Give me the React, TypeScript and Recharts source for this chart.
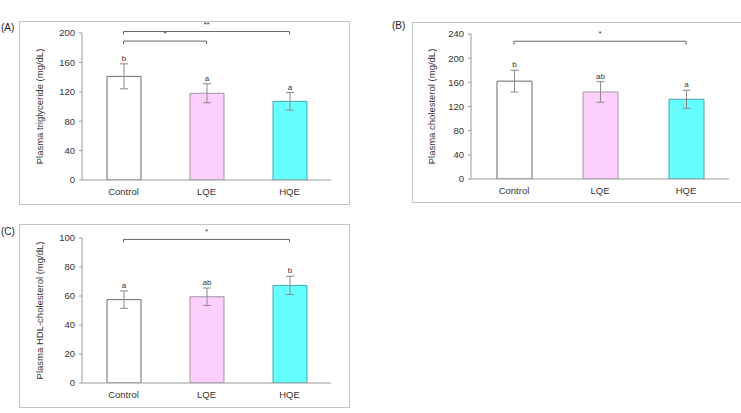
import {
  BarChart,
  Bar,
  XAxis,
  YAxis,
  Cell,
  ErrorBar,
  LabelList,
  ReferenceLine,
} from "recharts"

// -----------------------------
// Data
// -----------------------------
const groups = ["Control", "LQE", "HQE"]

const tgMean = [141, 118, 107]
const tgErr = [17, 13, 12]
const tgLetters = ["b", "a", "a"]
const tgTicks = [0, 40, 80, 120, 160, 200]

const cholMean = [162, 144, 132]
const cholErr = [18, 17, 15]
const cholLetters = ["b", "ab", "a"]
const cholTicks = [0, 40, 80, 120, 160, 200, 240]

const hdlMean = [57.5, 59.5, 67.3]
const hdlErr = [6, 6, 6.3]
const hdlLetters = ["a", "ab", "b"]
const hdlTicks = [0, 20, 40, 60, 80, 100]

const barFills = ["#ffffff", "#fccffc", "#66ffff"]
const barStrokes = ["#6b6b6b", "#a494a4", "#46a6a6"]

const FONT = '"Liberation Sans", Arial, sans-serif'
const axisGray = "#9a9a9a"

interface Bracket {
  from: string
  to: string
  y: number
  leg: number
  mark: string
}

interface PanelProps {
  tag: string
  title: string
  means: number[]
  errs: number[]
  letters: string[]
  ticks: number[]
  brackets: Bracket[]
  frame: { left: number; top: number; width: number; height: number }
  tagPos: { left: number; top: number }
  margin: { top: number; right: number; bottom: number; left: number }
  yWidth: number
  xHeight: number
  barSize: number
  labelDx: number
}

function Panel(p: PanelProps) {
  const data = groups.map((g, i) => ({
    name: g,
    mean: p.means[i],
    err: p.errs[i],
    letter: p.letters[i],
  }))
  const max = p.ticks[p.ticks.length - 1]

  // letter sits just above the error-bar cap
  const renderLetter = (props: any) => {
    const { x, y, width, height, value, index } = props
    const mean = p.means[index]
    const pxPerUnit = height / mean
    const top = y - p.errs[index] * pxPerUnit
    return (
      <text
        x={x + width / 2}
        y={top - 3}
        textAnchor="middle"
        fontSize={8}
        fontFamily={FONT}
        fill="#333"
      >
        {value}
      </text>
    )
  }

  return (
    <>
      <div
        style={{
          position: "absolute",
          left: p.tagPos.left,
          top: p.tagPos.top,
          fontFamily: FONT,
          fontSize: 10,
          color: "#222",
        }}
      >
        {p.tag}
      </div>
      <div
        style={{
          position: "absolute",
          left: p.frame.left,
          top: p.frame.top,
          width: p.frame.width,
          height: p.frame.height,
          border: "1.5px solid #c4c4c4",
          boxSizing: "border-box",
        }}
      />
      <div style={{ position: "absolute", left: p.frame.left, top: p.frame.top }}>
        <BarChart
          width={Math.min(p.frame.width, 741 - p.frame.left)}
          height={p.frame.height}
          data={data}
          margin={p.margin}
          barCategoryGap={0}
        >
          <XAxis
            dataKey="name"
            height={p.xHeight}
            tickLine={false}
            tickSize={0}
            tickMargin={8}
            stroke={axisGray}
            tick={{ fill: "#333", fontSize: 9.5, fontFamily: FONT }}
          />
          <YAxis
            domain={[0, max]}
            ticks={p.ticks}
            width={p.yWidth}
            tickSize={3}
            tickMargin={4}
            stroke={axisGray}
            interval={0}
            allowDataOverflow
            tick={{ fill: "#333", fontSize: 9.5, fontFamily: FONT }}
            label={{
              value: p.title,
              angle: -90,
              position: "insideLeft",
              dx: p.labelDx,
              style: {
                textAnchor: "middle",
                fontSize: 9.5,
                fontFamily: FONT,
                fill: "#333",
              },
            }}
          />

          {/* significance brackets */}
          {p.brackets.map((b, i) => [
            <ReferenceLine
              key={`h${i}`}
              segment={[
                { x: b.from, y: b.y },
                { x: b.to, y: b.y },
              ]}
              stroke="#666"
              strokeWidth={1}
              ifOverflow="visible"
              label={{
                value: b.mark,
                position: "top",
                fontSize: 8,
                fontFamily: FONT,
                fill: "#333",
              }}
            />,
            <ReferenceLine
              key={`l${i}`}
              segment={[
                { x: b.from, y: b.y },
                { x: b.from, y: b.leg },
              ]}
              stroke="#666"
              strokeWidth={1}
              ifOverflow="visible"
            />,
            <ReferenceLine
              key={`r${i}`}
              segment={[
                { x: b.to, y: b.y },
                { x: b.to, y: b.leg },
              ]}
              stroke="#666"
              strokeWidth={1}
              ifOverflow="visible"
            />,
          ])}

          <Bar dataKey="mean" barSize={p.barSize} isAnimationActive={false}>
            {data.map((d, i) => (
              <Cell key={d.name} fill={barFills[i]} stroke={barStrokes[i]} strokeWidth={1} />
            ))}
            <ErrorBar
              dataKey="err"
              width={4}
              stroke="#8a8a8a"
              strokeWidth={1}
              direction="y"
              isAnimationActive={false}
            />
            <LabelList dataKey="letter" content={renderLetter} />
          </Bar>
        </BarChart>
      </div>
    </>
  )
}

export default function App() {
  return (
    <div
      style={{
        position: "fixed",
        left: 0,
        top: 0,
        width: 741,
        height: 413,
        overflow: "hidden",
        background: "#fff",
      }}
    >
      <Panel
        tag="(A)"
        title="Plasma triglyceride (mg/dL)"
        means={tgMean}
        errs={tgErr}
        letters={tgLetters}
        ticks={tgTicks}
        brackets={[
          { from: "Control", to: "HQE", y: 202, leg: 198, mark: "**" },
          { from: "Control", to: "LQE", y: 189, leg: 185, mark: "*" },
        ]}
        frame={{ left: 19, top: 21, width: 331, height: 184 }}
        tagPos={{ left: 1, top: 22 }}
        margin={{ top: 12, right: 19, bottom: 0, left: 0 }}
        yWidth={63}
        xHeight={25}
        barSize={34}
        labelDx={16}
      />
      <Panel
        tag="(B)"
        title="Plasma cholesterol (mg/dL)"
        means={cholMean}
        errs={cholErr}
        letters={cholLetters}
        ticks={cholTicks}
        brackets={[{ from: "Control", to: "HQE", y: 228, leg: 222, mark: "*" }]}
        frame={{ left: 412, top: 22, width: 360, height: 181 }}
        tagPos={{ left: 392, top: 20 }}
        margin={{ top: 12, right: 12, bottom: 0, left: 0 }}
        yWidth={59}
        xHeight={24}
        barSize={35}
        labelDx={15}
      />
      <Panel
        tag="(C)"
        title="Plasma HDL-cholesterol (mg/dL)"
        means={hdlMean}
        errs={hdlErr}
        letters={hdlLetters}
        ticks={hdlTicks}
        brackets={[{ from: "Control", to: "HQE", y: 99, leg: 97, mark: "*" }]}
        frame={{ left: 19, top: 224, width: 331, height: 184 }}
        tagPos={{ left: 1, top: 226 }}
        margin={{ top: 14, right: 19, bottom: 0, left: 0 }}
        yWidth={63}
        xHeight={25}
        barSize={34}
        labelDx={16}
      />
    </div>
  )
}
